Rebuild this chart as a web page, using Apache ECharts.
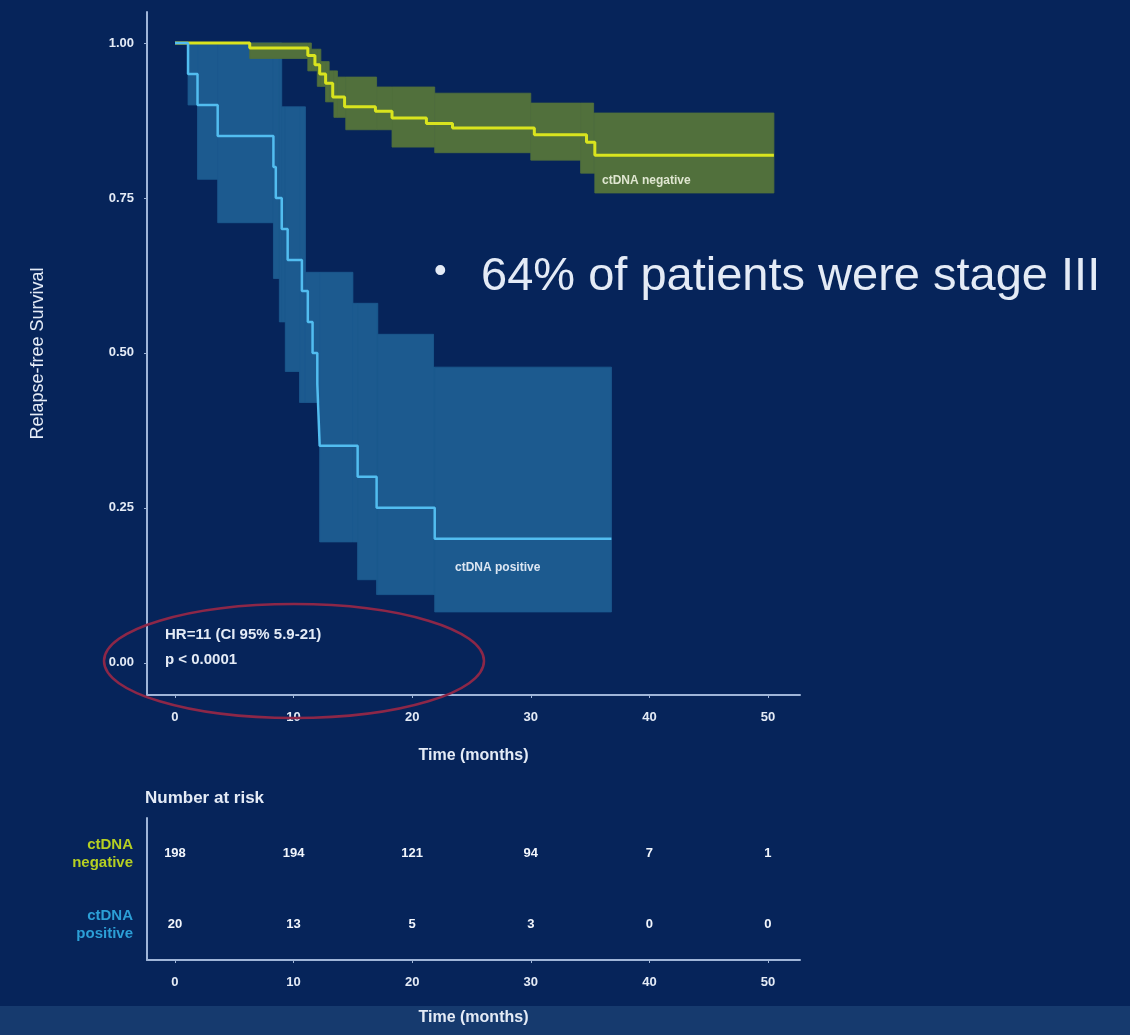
<!DOCTYPE html>
<html lang="en">
<head>
    <meta charset="UTF-8">
    <title>Relapse-free survival by ctDNA</title>
    <script src="https://cdn.jsdelivr.net/npm/echarts@6/dist/echarts.min.js"></script>
    <style>
        html, body { margin: 0; padding: 0; background: #06245a; }
    </style>
</head>
<body>
    <div id="main" style="width: 1130px; height: 1035px;"></div>
    <script>

        // Kaplan-Meier step points [month, survival]
        var negCurve = [[0, 1], [6.3, 0.992], [11.2, 0.98], [11.8, 0.965], [12.2, 0.95], [12.7, 0.935], [13.3, 0.913], [14.3, 0.897],
            [16.9, 0.89], [18.3, 0.879], [21.2, 0.87], [23.4, 0.863], [30.3, 0.852], [34.7, 0.84], [35.4, 0.819], [50.5, 0.819]];
        var negUpper = [[0, 1], [11.5, 0.99], [12.3, 0.97], [13.0, 0.955], [13.7, 0.945], [17.0, 0.929], [21.9, 0.919],
            [30.0, 0.903], [35.3, 0.887], [50.5, 0.887]];
        var negLower = [[0, 1], [6.3, 0.975], [11.2, 0.955], [12.0, 0.93], [12.7, 0.905], [13.4, 0.88], [14.4, 0.86],
            [18.3, 0.832], [21.9, 0.823], [30.0, 0.811], [34.2, 0.79], [35.4, 0.758], [50.5, 0.758]];

        var posCurve = [[0, 1], [1.1, 0.95], [1.9, 0.9], [3.6, 0.85], [8.3, 0.8], [8.5, 0.75], [9.0, 0.7], [9.5, 0.65],
            [10.7, 0.6], [11.2, 0.55], [11.6, 0.5], [12.0, 0.45], [12.1, 0.4], [12.2, 0.35], [15.4, 0.3], [17.0, 0.25],
            [21.9, 0.2], [36.8, 0.2]];
        var posUpper = [[0, 1], [9.0, 0.897], [11.0, 0.63], [15.0, 0.58], [17.1, 0.53], [21.8, 0.477], [36.8, 0.477]];
        var posLower = [[0, 1], [1.1, 0.9], [1.9, 0.78], [3.6, 0.71], [8.3, 0.62], [8.8, 0.55], [9.3, 0.47], [10.5, 0.42],
            [12.2, 0.195], [15.4, 0.134], [17.0, 0.11], [21.9, 0.082], [36.8, 0.082]];

        // number at risk
        var riskTimes = [0, 10, 20, 30, 40, 50];
        var riskRows = ['ctDNA\nnegative', 'ctDNA\npositive'];
        var riskNeg = [198, 194, 121, 94, 7, 1];
        var riskPos = [20, 13, 5, 3, 0, 0];

        var xTicks = [0, 10, 20, 30, 40, 50];
        var yTicks = [0, 0.25, 0.5, 0.75, 1];

        var bg = '#06245a';
        var axisCol = '#9fb5d8';
        var txtCol = '#e4ebf6';
        var font = '"Liberation Sans", Arial, sans-serif';

        function stepAt(arr, t) {
            var v = arr[0][1];
            for (var i = 0; i < arr.length; i++) {
                if (arr[i][0] <= t) v = arr[i][1];
            }
            return v;
        }

        // confidence band as [t0, t1, low, high] pieces
        function bandRects(upper, lower) {
            var ts = upper.map(function (d) { return d[0]; }).concat(lower.map(function (d) { return d[0]; }));
            ts = ts.filter(function (t, i) { return ts.indexOf(t) === i; }).sort(function (a, b) { return a - b; });
            var out = [];
            for (var i = 0; i < ts.length - 1; i++) {
                out.push([ts[i], ts[i + 1], stepAt(lower, ts[i]), stepAt(upper, ts[i])]);
            }
            return out;
        }

        function bandSeries(upper, lower, color, z) {
            return {
                type: 'custom',
                xAxisIndex: 0,
                yAxisIndex: 0,
                silent: true,
                z: z,
                data: bandRects(upper, lower),
                encode: { x: [0, 1], y: [2, 3] },
                renderItem: function (params, api) {
                    var a = api.coord([api.value(0), api.value(3)]);
                    var b = api.coord([api.value(1), api.value(2)]);
                    return {
                        type: 'rect',
                        shape: { x: a[0], y: a[1], width: b[0] - a[0], height: b[1] - a[1] },
                        style: { fill: color, stroke: color, lineWidth: 0.8 }
                    };
                }
            };
        }

        var riskData = [];
        riskTimes.forEach(function (t, i) {
            riskData.push([t, riskRows[0], riskNeg[i]]);
            riskData.push([t, riskRows[1], riskPos[i]]);
        });

        function makeXAxis(gridIndex, nameGap) {
            return {
                type: 'value',
                gridIndex: gridIndex,
                min: -2.36,
                max: 52.7,
                splitLine: { show: false },
                axisLine: { show: true, onZero: false, lineStyle: { color: axisCol, width: 2 } },
                axisTick: { show: true, customValues: xTicks, length: 3, lineStyle: { color: axisCol } },
                axisLabel: {
                    customValues: xTicks,
                    margin: 16,
                    color: txtCol,
                    fontSize: 13,
                    fontWeight: 'bold',
                    fontFamily: font
                },
                name: 'Time (months)',
                nameLocation: 'middle',
                nameGap: nameGap,
                nameTextStyle: { color: txtCol, fontSize: 16, fontWeight: 'bold', fontFamily: font }
            };
        }

        var chartDom = document.getElementById('main');
        var myChart = echarts.init(chartDom);
        var option;

        option = {
            backgroundColor: bg,
            animation: false,
            grid: [
                { left: 147, top: 12, width: 653, height: 683 },
                { left: 147, top: 818, width: 653, height: 142 }
            ],
            xAxis: [makeXAxis(0, 53), makeXAxis(1, 50)],
            yAxis: [
                {
                    type: 'value',
                    gridIndex: 0,
                    min: -0.052,
                    max: 1.05,
                    splitLine: { show: false },
                    axisLine: { show: true, onZero: false, lineStyle: { color: axisCol, width: 2 } },
                    axisTick: { show: true, customValues: yTicks, length: 3, lineStyle: { color: axisCol } },
                    axisLabel: {
                        customValues: yTicks,
                        margin: 13,
                        color: txtCol,
                        fontSize: 13,
                        fontWeight: 'bold',
                        fontFamily: font,
                        formatter: function (v) { return v.toFixed(2); }
                    },
                    name: 'Relapse-free Survival',
                    nameLocation: 'middle',
                    nameGap: 100,
                    nameTextStyle: { color: txtCol, fontSize: 18, fontFamily: font }
                },
                {
                    type: 'category',
                    gridIndex: 1,
                    inverse: true,
                    data: riskRows,
                    axisLine: { show: true, onZero: false, lineStyle: { color: axisCol, width: 2 } },
                    axisTick: { show: false },
                    axisLabel: {
                        margin: 14,
                        align: 'right',
                        fontSize: 15,
                        fontWeight: 'bold',
                        lineHeight: 18,
                        fontFamily: font,
                        color: function (v) { return v === riskRows[0] ? '#b5cf22' : '#2c9fd6'; }
                    }
                }
            ],
            graphic: [
                {
                    type: 'rect',
                    silent: true,
                    z: -10,
                    shape: { x: 0, y: 1006, width: 1130, height: 29 },
                    style: { fill: '#163a6e' }
                },
                {
                    type: 'ellipse',
                    silent: true,
                    z: 10,
                    shape: { cx: 294, cy: 661, rx: 190, ry: 57 },
                    style: { fill: 'none', stroke: '#8c2748', lineWidth: 2.5 }
                },
                {
                    type: 'text', left: 165, top: 627, z: 11,
                    style: { text: 'HR=11 (CI 95% 5.9-21)', fill: txtCol, fontSize: 15, fontWeight: 'bold', fontFamily: font }
                },
                {
                    type: 'text', left: 165, top: 652, z: 11,
                    style: { text: 'p < 0.0001', fill: txtCol, fontSize: 15, fontWeight: 'bold', fontFamily: font }
                },
                {
                    type: 'text', left: 602, top: 175, z: 11,
                    style: { text: 'ctDNA negative', fill: '#dfe6d0', fontSize: 12, fontWeight: 'bold', fontFamily: font }
                },
                {
                    type: 'text', left: 455, top: 562, z: 11,
                    style: { text: 'ctDNA positive', fill: '#dce6f2', fontSize: 12, fontWeight: 'bold', fontFamily: font }
                },
                {
                    type: 'text', left: 434, top: 254, z: 11,
                    style: { text: '•', fill: txtCol, fontSize: 36, fontFamily: font }
                },
                {
                    type: 'text', left: 481, top: 254, z: 11,
                    style: { text: '64% of patients were stage III', fill: txtCol, fontSize: 47, fontFamily: font }
                },
                {
                    type: 'text', left: 145, top: 790, z: 11,
                    style: { text: 'Number at risk', fill: txtCol, fontSize: 17, fontWeight: 'bold', fontFamily: font }
                }
            ],
            series: [
                bandSeries(posUpper, posLower, '#1c5a8f', 1),
                bandSeries(negUpper, negLower, '#51703c', 2),
                {
                    name: 'ctDNA negative',
                    type: 'line',
                    step: 'end',
                    showSymbol: false,
                    z: 3,
                    data: negCurve,
                    lineStyle: { color: '#d9e41e', width: 3 }
                },
                {
                    name: 'ctDNA positive',
                    type: 'line',
                    step: 'end',
                    showSymbol: false,
                    z: 4,
                    data: posCurve,
                    lineStyle: { color: '#52bdf0', width: 2.5 }
                },
                {
                    name: 'at risk',
                    type: 'scatter',
                    xAxisIndex: 1,
                    yAxisIndex: 1,
                    symbolSize: 0,
                    itemStyle: { opacity: 1 },
                    data: riskData,
                    label: {
                        show: true,
                        position: 'inside',
                        color: '#f2f6fc',
                        fontSize: 13,
                        fontWeight: 'bold',
                        fontFamily: font,
                        formatter: function (p) { return p.value[2]; }
                    }
                }
            ]
        };

        option && myChart.setOption(option);

    </script>
</body>
</html>
